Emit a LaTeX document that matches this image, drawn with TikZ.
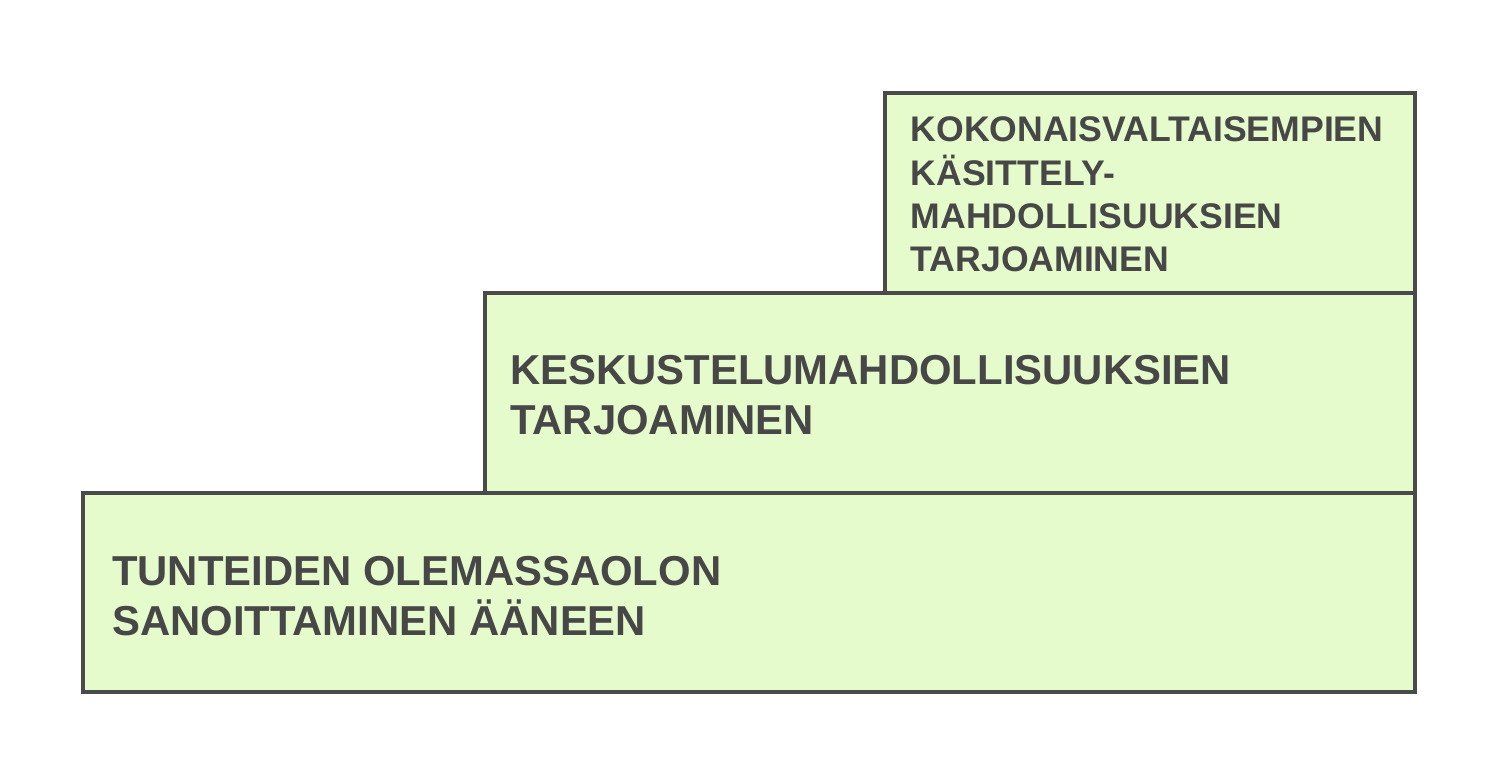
\documentclass[tikz,border=0pt]{standalone}
\usepackage{fontspec}
\setmainfont{Liberation Sans}
\definecolor{boxfill}{HTML}{E5FBCC}
\definecolor{boxline}{HTML}{4A4A4A}
\definecolor{txt}{HTML}{474747}
\tikzset{
  box/.style={draw=boxline, line width=4pt, fill=boxfill, inner sep=0pt, outer sep=0pt, anchor=north west},
  bigtext/.style={anchor=base west, inner sep=0pt, text=txt, font=\bfseries\fontsize{41.85}{50}\selectfont},
  smalltext/.style={anchor=base west, inner sep=0pt, text=txt, font=\bfseries\fontsize{35.6}{43}\selectfont}
}
\begin{document}
\begin{tikzpicture}[x=1pt,y=-1pt]
\useasboundingbox[fill=white] (0,0) rectangle (1500,775);
\node[box, minimum width=1332pt, minimum height=199pt] (base) at (83,493) {};
\node[box, minimum width=930pt, minimum height=200pt] (mid) at (485,293) {};
\node[box, minimum width=530pt, minimum height=200pt] (top) at (885,93) {};
\node[bigtext] (b1) at (112,585) {TUNTEIDEN OLEMASSAOLON};
\node[bigtext] (b2) at (112,635) {SANOITTAMINEN ÄÄNEEN};
\node[bigtext] (m1) at (510,385) {KESKUSTELUMAHDOLLISUUKSIEN};
\node[bigtext] (m2) at (510,435) {TARJOAMINEN};
\node[smalltext] (t1) at (910.5,142) {KOKONAISVALTAISEMPIEN};
\node[smalltext] (t2) at (910.5,185.3) {KÄSITTELY-};
\node[smalltext] (t3) at (910.5,228.7) {MAHDOLLISUUKSIEN};
\node[smalltext] (t4) at (910.5,272) {TARJOAMINEN};
\end{tikzpicture}
\end{document}
